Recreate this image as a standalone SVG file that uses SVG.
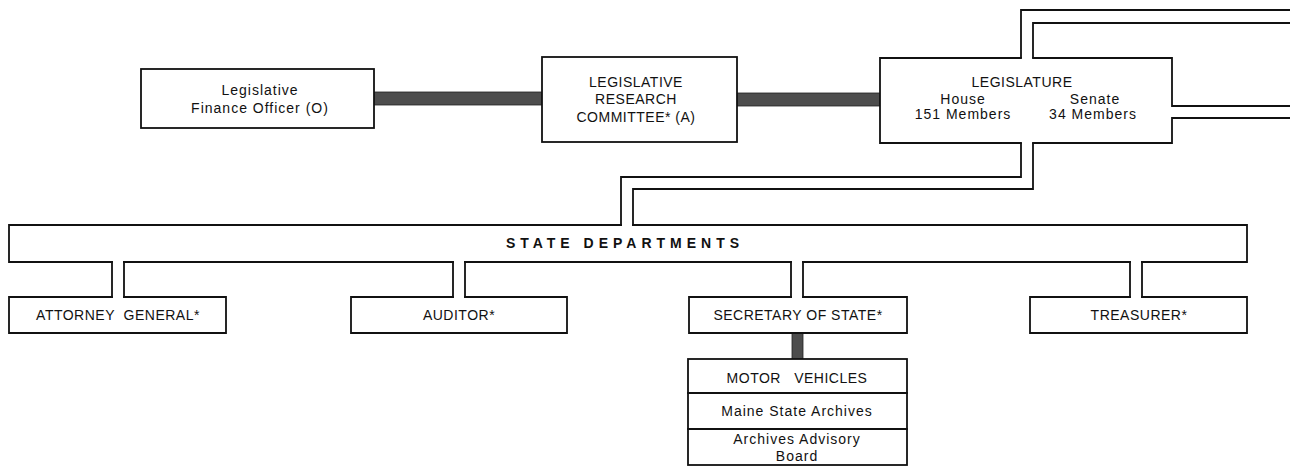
<svg xmlns="http://www.w3.org/2000/svg" width="1290" height="467" viewBox="0 0 1290 467">
<style>
.ln{fill:none;stroke:#111;stroke-width:1.8;stroke-linejoin:miter;stroke-linecap:square}
.bx{fill:#fff;stroke:#111;stroke-width:1.8}
.bar{fill:#4d4d4d;stroke:#222;stroke-width:0.8}
.t{font-family:"Liberation Sans",Arial,sans-serif;font-size:14px;fill:#111;text-anchor:middle;letter-spacing:0.5px;white-space:pre}
.lc{letter-spacing:1px}
.sd{font-weight:bold;font-size:14px;letter-spacing:5px}
</style>
<rect width="1290" height="467" fill="#fff"/>
<g id="connectors">
<rect class="bar" x="374" y="92" width="168" height="13"/>
<rect class="bar" x="737" y="93" width="143" height="13"/>
<rect class="bar" x="792" y="333" width="11" height="26"/>
<path class="ln" d="M1021,58 V10 H1290 M1033,58 V23 H1290"/>
<path class="ln" d="M1172,106 H1290 M1172,118 H1290"/>
<path class="ln" d="M1021,143 V177 H621 V225 M1033,143 V189 H633 V225"/>
<path class="ln" d="M112,262 V297 M124,262 V297 M453,262 V297 M465,262 V297 M791,262 V297 M803,262 V297 M1130,262 V297 M1142,262 V297"/>
</g>
<g id="finance-officer">
<rect class="bx" x="141" y="69" width="233" height="59"/>
<text class="t lc" x="260" y="95">Legislative</text>
<text class="t lc" x="260" y="113">Finance Officer (O)</text>
</g>
<g id="research-committee">
<rect class="bx" x="542" y="57" width="195" height="85"/>
<text class="t" x="636" y="87">LEGISLATIVE</text>
<text class="t" x="636" y="104">RESEARCH</text>
<text class="t" x="636" y="122">COMMITTEE* (A)</text>
</g>
<g id="legislature">
<path d="M880,58 H1172 V143 H880 Z" fill="#fff"/>
<path class="ln" d="M1021,58 H880 V143 H1021 M1033,143 H1172 V118 M1172,106 V58 H1033"/>
<text class="t" x="1022" y="87">LEGISLATURE</text>
<text class="t lc" x="963" y="104">House</text>
<text class="t lc" x="1095" y="104">Senate</text>
<text class="t lc" x="963" y="119">151 Members</text>
<text class="t lc" x="1093" y="119">34 Members</text>
</g>
<g id="state-departments">
<path class="ln" d="M621,225 H9 V262 H112 M124,262 H453 M465,262 H791 M803,262 H1130 M1142,262 H1247 V225 H633"/>
<text class="t sd" x="625" y="248">STATE DEPARTMENTS</text>
</g>
<g id="attorney-general">
<path class="ln" d="M112,297 H9 V333 H226 V297 H124"/>
<text class="t" x="118" y="320">ATTORNEY  GENERAL*</text>
</g>
<g id="auditor">
<path class="ln" d="M453,297 H351 V333 H567 V297 H465"/>
<text class="t" x="459" y="320">AUDITOR*</text>
</g>
<g id="secretary-of-state">
<path class="ln" d="M791,297 H689 V333 H907 V297 H803"/>
<text class="t" x="798" y="320">SECRETARY OF STATE*</text>
</g>
<g id="treasurer">
<path class="ln" d="M1130,297 H1030 V333 H1247 V297 H1142"/>
<text class="t" x="1139" y="320">TREASURER*</text>
</g>
<g id="motor-vehicles">
<rect class="bx" x="688" y="359" width="219" height="106"/>
<path class="ln" d="M688,393 H907 M688,429 H907"/>
<text class="t" x="797" y="383">MOTOR   VEHICLES</text>
<text class="t lc" x="797" y="416">Maine State Archives</text>
<text class="t lc" x="797" y="444">Archives Advisory</text>
<text class="t lc" x="797" y="461">Board</text>
</g>
</svg>
